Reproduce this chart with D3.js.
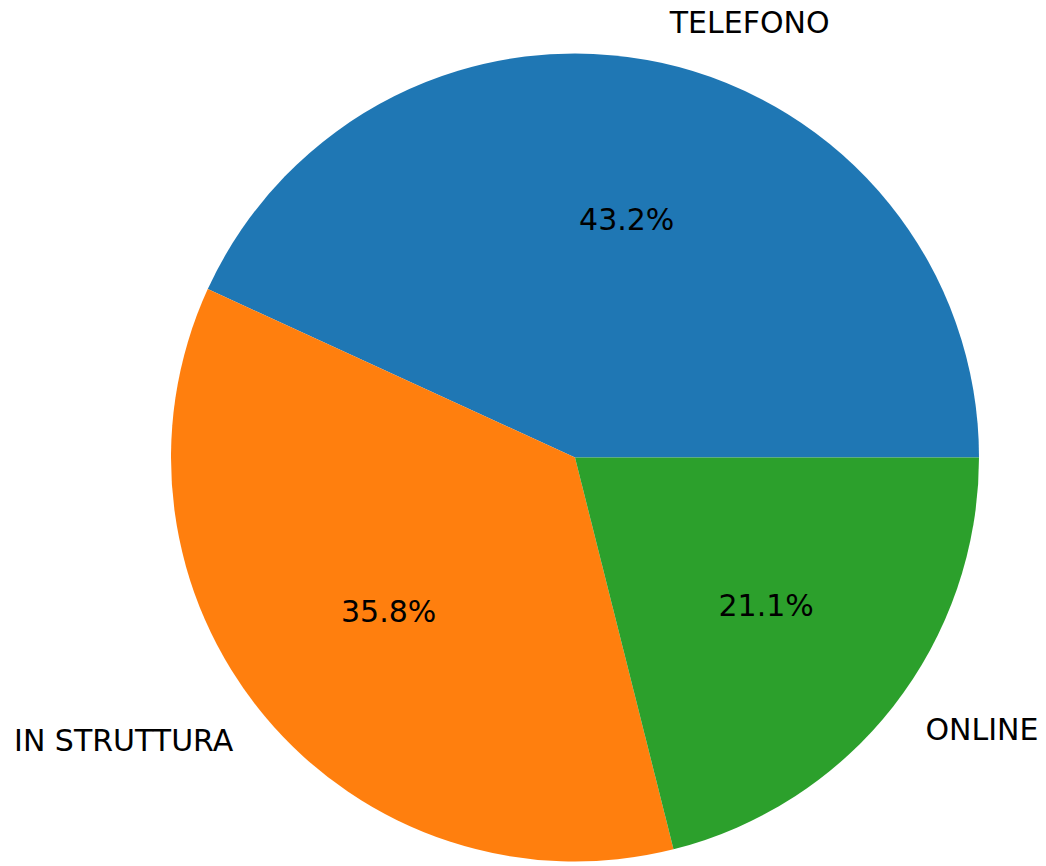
<!DOCTYPE html>
<html>
<head>
  <meta charset="utf-8">
  <title>Pie</title>
  <script src="https://d3js.org/d3.v7.min.js"></script>
  <style>
    body { margin: 0; background: #fff; }
    text { font-family: "DejaVu Sans", sans-serif; }
  </style>
</head>
<body>
  <script>
    const labels = ["TELEFONO", "IN STRUTTURA", "ONLINE"];
    const values = [43.2, 35.8, 21.1];
    const colors = ["#1f77b4", "#ff7f0e", "#2ca02c"];

    const width = 1046, height = 866;
    const cx = 575, cy = 457.5, radius = 404;
    const fontSize = 30;

    const svg = d3.select("body").append("svg")
      .attr("width", width)
      .attr("height", height);

    const g = svg.append("g")
      .attr("transform", "translate(" + cx + "," + cy + ")");

    // matplotlib style: start at east, go counter-clockwise
    const pie = d3.pie()
      .value(d => d)
      .sort(null)
      .startAngle(Math.PI / 2)
      .endAngle(Math.PI / 2 - 2 * Math.PI);

    const arc = d3.arc().innerRadius(0).outerRadius(radius);

    const arcs = pie(values);

    g.selectAll("path.slice")
      .data(arcs)
      .enter()
      .append("path")
      .attr("class", "slice")
      .attr("d", arc)
      .attr("fill", (d, i) => colors[i]);

    function pos(d, r) {
      const a = (d.startAngle + d.endAngle) / 2;
      return [r * Math.sin(a), -r * Math.cos(a)];
    }

    // outer labels at 1.1 radius
    g.selectAll("text.label")
      .data(arcs)
      .enter()
      .append("text")
      .attr("class", "label")
      .attr("x", d => pos(d, radius * 1.1)[0])
      .attr("y", d => pos(d, radius * 1.1)[1])
      .attr("dy", "0.31em")
      .attr("text-anchor", d => pos(d, 1)[0] > 0 ? "start" : "end")
      .attr("font-size", fontSize)
      .attr("fill", "#000")
      .text((d, i) => labels[i]);

    // percentages at 0.6 radius
    g.selectAll("text.pct")
      .data(arcs)
      .enter()
      .append("text")
      .attr("class", "pct")
      .attr("x", d => pos(d, radius * 0.6)[0])
      .attr("y", d => pos(d, radius * 0.6)[1])
      .attr("dy", "0.31em")
      .attr("text-anchor", "middle")
      .attr("font-size", fontSize)
      .attr("fill", "#000")
      .text(d => d.data.toFixed(1) + "%");
  </script>
</body>
</html>
